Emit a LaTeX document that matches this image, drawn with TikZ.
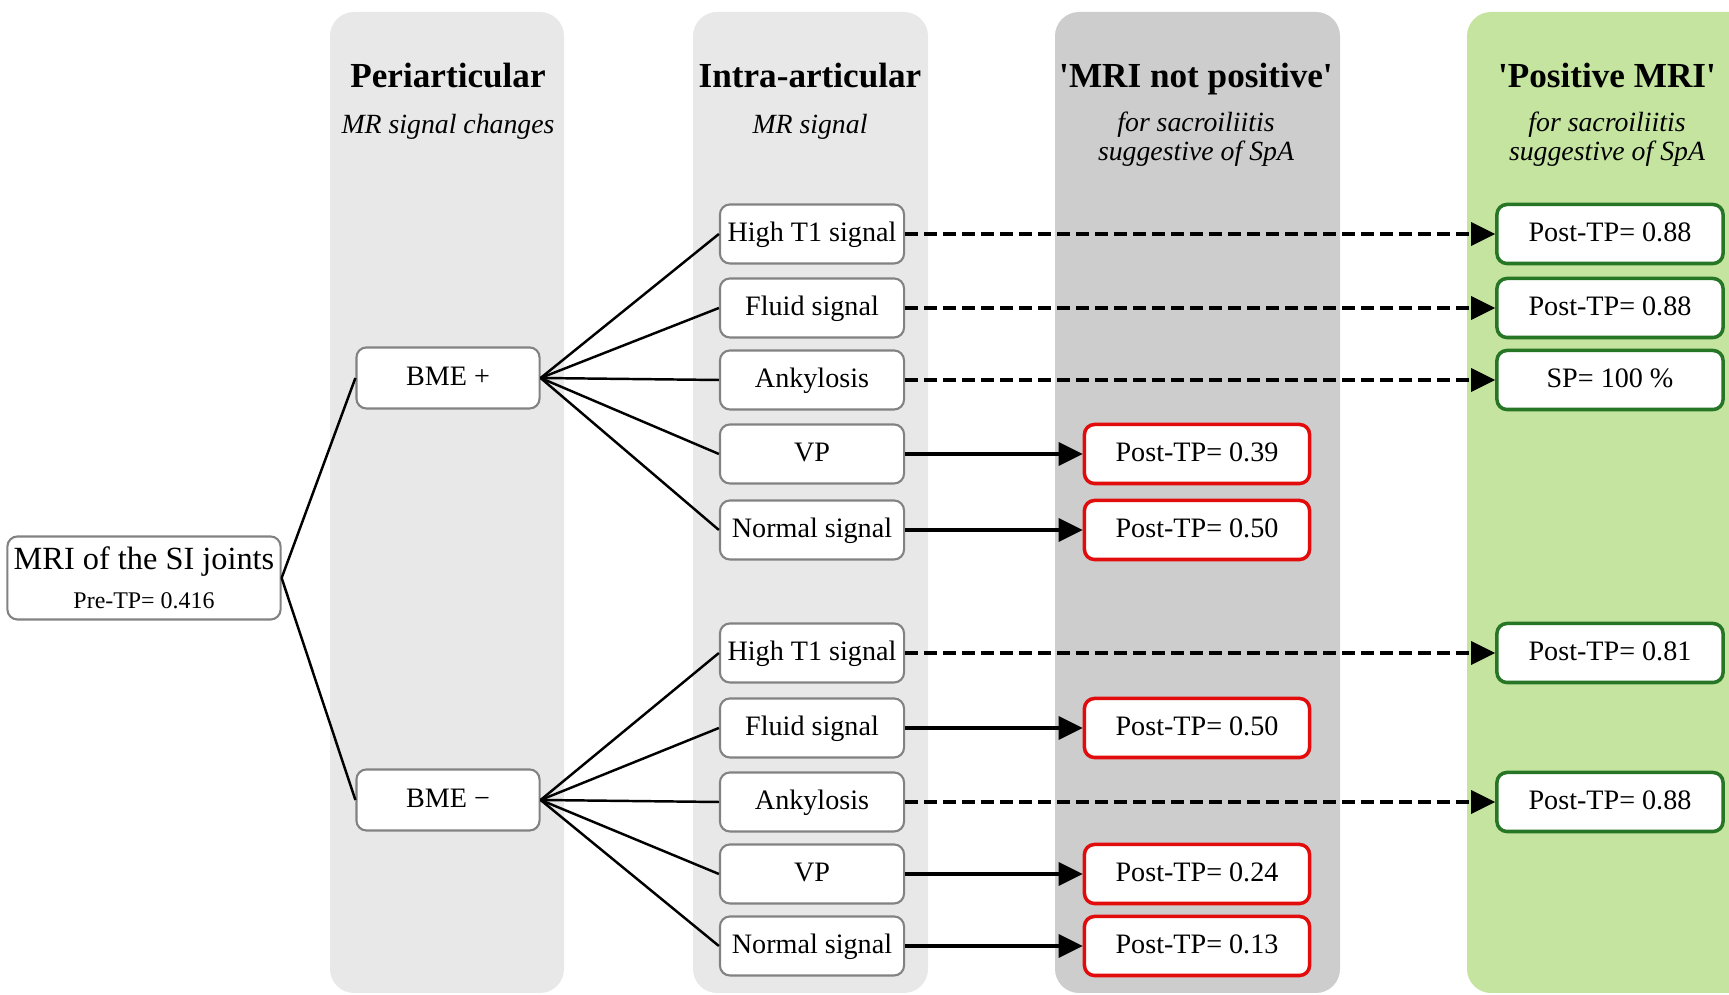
\documentclass[tikz,border=0pt]{standalone}
\usepackage{fontspec}
\setmainfont{Liberation Serif}
\usetikzlibrary{arrows.meta,positioning}
\definecolor{lanelt}{RGB}{232,232,232}
\definecolor{lanedk}{RGB}{205,205,205}
\definecolor{lanegr}{RGB}{197,228,160}
\definecolor{boxgray}{RGB}{130,130,130}
\definecolor{outred}{RGB}{226,12,12}
\definecolor{outgreen}{RGB}{38,118,38}

\begin{document}
\begin{tikzpicture}[x=0.01cm,y=-0.01cm,>={Triangle[length=2.4mm,width=2.3mm]},
   lane/.style={rounded corners=2.4mm},
   ttl/.style={font=\fontsize{10}{12}\selectfont\bfseries,anchor=base},
   subttl/.style={font=\fontsize{7.9}{8.4}\selectfont\itshape,align=center},
   bx/.style={draw=boxgray,line width=0.6pt,rounded corners=1mm,fill=white,
     minimum width=1.84cm,minimum height=0.59cm,inner sep=0pt,
     text height=6pt,text depth=1.5pt,font=\fontsize{8}{10}\selectfont},
   redbox/.style={bx,draw=outred,line width=1pt,minimum width=2.25cm},
   grnbox/.style={bx,draw=outgreen,line width=1pt,minimum width=2.26cm},
   fan/.style={line width=0.7pt},
   sarr/.style={->,line width=0.95pt},
   darr/.style={->,line width=0.95pt,dash pattern=on 1.3mm off 0.6mm}]
  \useasboundingbox (0,0) rectangle (1729,995);
  \fill[lanelt,lane] (330,12) rectangle (564,993);
  \fill[lanelt,lane] (693,12) rectangle (928,993);
  \fill[lanedk,lane] (1055,12) rectangle (1340,993);
  \fill[lanegr,lane] (1467,12) rectangle (1790,993);

  \node[ttl] (t1) at (448,88) {Periarticular};
  \node[subttl] (s1) at (448,127) {MR signal changes};
  \node[ttl] (t2) at (810,88) {Intra-articular};
  \node[subttl] (s2) at (810,127) {MR signal};
  \node[ttl] (t3) at (1196,88) {\textquotesingle MRI not positive\textquotesingle};
  \node[subttl] (s3) at (1196,139) {for sacroiliitis\\suggestive of SpA};
  \node[ttl] (t4) at (1607,88) {\textquotesingle Positive MRI\textquotesingle};
  \node[subttl] (s4) at (1607,139) {for sacroiliitis\\suggestive of SpA};

  \node[draw=boxgray,line width=0.6pt,rounded corners=1mm,fill=white,inner sep=0pt,
    minimum width=2.73cm,minimum height=0.83cm,align=center,
    font=\fontsize{9.2}{11}\selectfont] (mri) at (144,578)
    {MRI of the SI joints\\[0pt]{\fontsize{6.8}{8}\selectfont Pre-TP= 0.416}};
  \node[bx,minimum width=1.83cm,minimum height=0.61cm] (bp) at (448,378) {BME +};
  \node[bx,minimum width=1.83cm,minimum height=0.61cm] (bm) at (448,800) {BME −};

  \node[bx] (a1) at (812,234) {High T1 signal};
  \node[bx] (a2) at (812,308) {Fluid signal};
  \node[bx] (a3) at (812,380) {Ankylosis};
  \node[bx] (a4) at (812,454) {VP};
  \node[bx] (a5) at (812,530) {Normal signal};
  \node[bx] (b1) at (812,653) {High T1 signal};
  \node[bx] (b2) at (812,728) {Fluid signal};
  \node[bx] (b3) at (812,802) {Ankylosis};
  \node[bx] (b4) at (812,874) {VP};
  \node[bx] (b5) at (812,946) {Normal signal};

  \node[redbox] (ra4) at (1197,454) {Post-TP= 0.39};
  \node[redbox] (ra5) at (1197,530) {Post-TP= 0.50};
  \node[redbox] (rb2) at (1197,728) {Post-TP= 0.50};
  \node[redbox] (rb4) at (1197,874) {Post-TP= 0.24};
  \node[redbox] (rb5) at (1197,946) {Post-TP= 0.13};

  \node[grnbox] (ga1) at (1610,234) {Post-TP= 0.88};
  \node[grnbox] (ga2) at (1610,308) {Post-TP= 0.88};
  \node[grnbox] (ga3) at (1610,380) {SP= 100 \%};
  \node[grnbox] (gb1) at (1610,653) {Post-TP= 0.81};
  \node[grnbox] (gb3) at (1610,802) {Post-TP= 0.88};

  \draw[fan] (mri.east) -- (bp.west);
  \draw[fan] (mri.east) -- (bm.west);
  \draw[fan] (bp.east) -- (a1.west);
  \draw[fan] (bp.east) -- (a2.west);
  \draw[fan] (bp.east) -- (a3.west);
  \draw[fan] (bp.east) -- (a4.west);
  \draw[fan] (bp.east) -- (a5.west);
  \draw[fan] (bm.east) -- (b1.west);
  \draw[fan] (bm.east) -- (b2.west);
  \draw[fan] (bm.east) -- (b3.west);
  \draw[fan] (bm.east) -- (b4.west);
  \draw[fan] (bm.east) -- (b5.west);

  \draw[darr] (a1.east) -- (ga1.west);
  \draw[darr] (a2.east) -- (ga2.west);
  \draw[darr] (a3.east) -- (ga3.west);
  \draw[sarr] (a4.east) -- (ra4.west);
  \draw[sarr] (a5.east) -- (ra5.west);
  \draw[darr] (b1.east) -- (gb1.west);
  \draw[sarr] (b2.east) -- (rb2.west);
  \draw[darr] (b3.east) -- (gb3.west);
  \draw[sarr] (b4.east) -- (rb4.west);
  \draw[sarr] (b5.east) -- (rb5.west);
\end{tikzpicture}
\end{document}
